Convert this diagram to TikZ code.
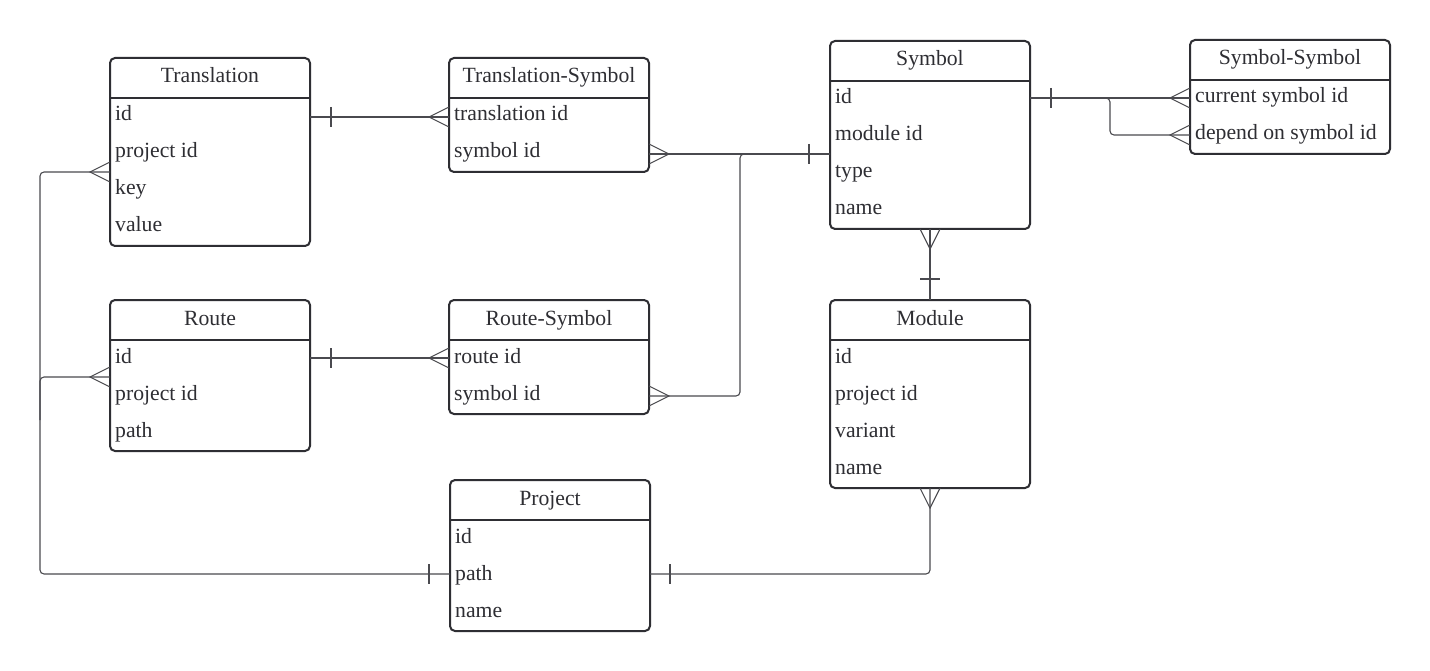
\documentclass[tikz,border=0pt]{standalone}
\usepackage{fontspec}
\setmainfont{Liberation Serif}
\usetikzlibrary{calc}
\definecolor{ink}{HTML}{2E2E33}
\definecolor{wire}{HTML}{4A4A4F}
\tikzset{
  tbl/.style={draw=ink, line width=2pt, rounded corners=5pt, minimum width=200pt, outer sep=0pt, inner sep=0pt, fill=white},
  hdr/.style={draw=ink, line width=2.6pt},
  ttl/.style={inner sep=0pt, text=ink, font=\fontsize{21.7}{25}\selectfont},
  fld/.style={inner sep=0pt, text=ink, font=\fontsize{21.7}{25}\selectfont},
  conn/.style={draw=wire, line width=1.1pt, rounded corners=4pt},
  endmark/.style={draw=wire, line width=1.1pt, sharp corners, line join=miter},
}
\newcommand\ertable[6]{%
  \node[tbl, anchor=north west, minimum height={40pt+37pt*#5}] (#1) at (#2,#3) {};
  \draw[hdr] ([yshift=-40pt]#1.north west) -- ([yshift=-40pt]#1.north east);
  \node[ttl, anchor=base] (#1-t) at ([yshift=-25pt]#1.north) {#4};
  \foreach \r [count=\i] in {#6}
    \node[fld, anchor=base west] (#1-\i) at ([xshift=5pt,yshift={-63pt-37pt*(\i-1)}]#1.north west) {\r};
}
\newcommand\tickh[2]{\draw[endmark] ($(#1)+(#2,-10)$) -- ($(#1)+(#2,10)$);}
\newcommand\tickv[2]{\draw[endmark] ($(#1)+(-10,#2)$) -- ($(#1)+(10,#2)$);}
\newcommand\crowh[2]{\draw[endmark] ($(#1)+(0,-10)$) -- ($(#1)+(#2,0)$) -- ($(#1)+(0,10)$);}
\newcommand\crowv[2]{\draw[endmark] ($(#1)+(-10,0)$) -- ($(#1)+(0,#2)$) -- ($(#1)+(10,0)$);}
\begin{document}
\begin{tikzpicture}[x=1pt,y=-1pt]
\useasboundingbox (0,0) rectangle (1430,671);
\fill[white] (0,0) rectangle (1430,671);

\ertable{trans}{110}{58}{Translation}{4}{id,project id,key,value}
\ertable{ts}{449}{58}{Translation-Symbol}{2}{translation id,symbol id}
\ertable{sym}{830}{41}{Symbol}{4}{id,module id,type,name}
\ertable{ss}{1190}{40}{Symbol-Symbol}{2}{current symbol id,depend on symbol id}
\ertable{route}{110}{300}{Route}{3}{id,project id,path}
\ertable{rs}{449}{300}{Route-Symbol}{2}{route id,symbol id}
\ertable{mod}{830}{300}{Module}{4}{id,project id,variant,name}
\ertable{proj}{450}{480}{Project}{3}{id,path,name}

% Translation -- Translation-Symbol
\coordinate (c1a) at ($(trans.north east)+(0,59)$);
\coordinate (c1b) at ($(ts.north west)+(0,59)$);
\draw[conn] (c1a) -- (c1b);
\tickh{c1a}{21}
\crowh{c1b}{-20}

% Translation-Symbol -- Symbol
\coordinate (c2a) at ($(ts.north east)+(0,96)$);
\coordinate (c2b) at ($(sym.north west)+(0,113)$);
\draw[conn] (c2a) -- (c2b);
\crowh{c2a}{20}
\tickh{c2b}{-21}

% Route-Symbol -- Symbol
\coordinate (c3a) at ($(rs.north east)+(0,96)$);
\draw[conn] (c3a) -| (740,154) -- (c2b);
\crowh{c3a}{20}

% Symbol -- Symbol-Symbol (current)
\coordinate (c4a) at ($(sym.north east)+(0,57)$);
\coordinate (c4b) at ($(ss.north west)+(0,58)$);
\draw[conn] (c4a) -- (c4b);
\tickh{c4a}{21}
\crowh{c4b}{-20}

% Symbol -- Symbol-Symbol (depend on)
\coordinate (c5b) at ($(ss.north west)+(0,95)$);
\draw[conn] (c4a) -- (1110,98) |- (c5b);
\crowh{c5b}{-20}

% Symbol -- Module
\coordinate (c6a) at ($(sym.south)$);
\coordinate (c6b) at ($(mod.north)$);
\draw[conn] (c6a) -- (c6b);
\crowv{c6a}{20}
\tickv{c6b}{-21}

% Route -- Route-Symbol
\coordinate (c7a) at ($(route.north east)+(0,58)$);
\coordinate (c7b) at ($(rs.north west)+(0,58)$);
\draw[conn] (c7a) -- (c7b);
\tickh{c7a}{21}
\crowh{c7b}{-20}

% Project -- Translation
\coordinate (c8a) at ($(trans.north west)+(0,114)$);
\coordinate (c8b) at ($(proj.north west)+(0,94)$);
\draw[conn] (c8a) -- (40,172) -- (40,574) -- (c8b);
\crowh{c8a}{-20}
\tickh{c8b}{-21}

% Project -- Route
\coordinate (c9a) at ($(route.north west)+(0,77)$);
\draw[conn] (c9a) -- (40,377) -- (40,420);
\crowh{c9a}{-20}

% Project -- Module
\coordinate (c10a) at ($(proj.north east)+(0,94)$);
\coordinate (c10b) at ($(mod.south)$);
\draw[conn] (c10a) -| (c10b);
\tickh{c10a}{20}
\crowv{c10b}{20}
\end{tikzpicture}
\end{document}
